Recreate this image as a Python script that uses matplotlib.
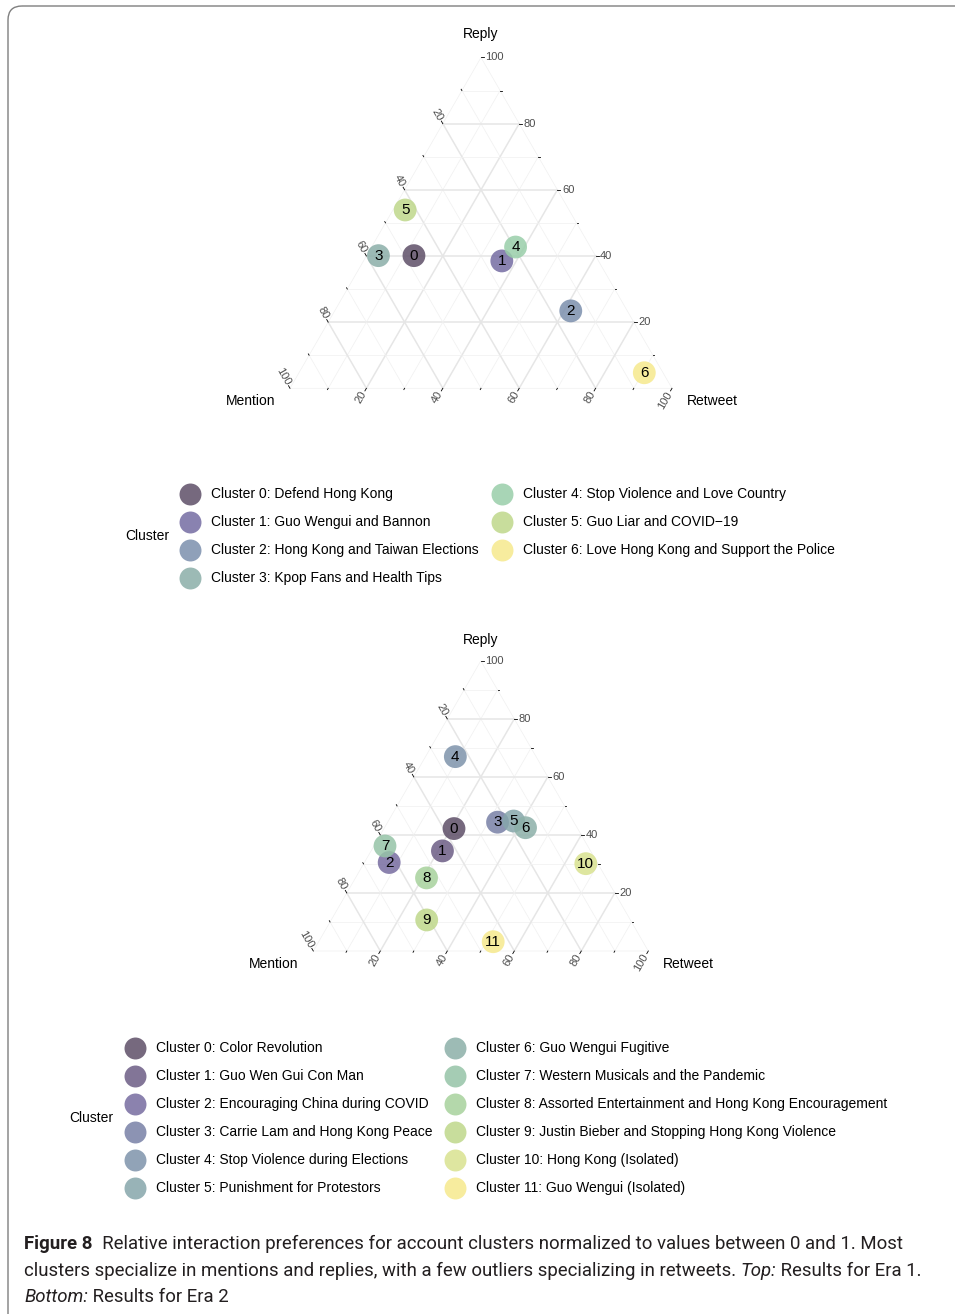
import numpy as np
import matplotlib
matplotlib.use("Agg")
import matplotlib.pyplot as plt
from matplotlib.patches import FancyBboxPatch
from matplotlib import colors as mcolors

W, H, DPI = 955, 1314, 100
FONT = ["Liberation Sans", "DejaVu Sans"]
CAP_FONT = ["Liberation Sans Narrow", "Roboto", "DejaVu Sans"]
plt.rcParams["font.family"] = FONT

# ---------------- data ----------------
era1_ids = [0, 1, 2, 3, 4, 5, 6]
era1_names = ["Defend Hong Kong", "Guo Wengui and Bannon", "Hong Kong and Taiwan Elections",
              "Kpop Fans and Health Tips", "Stop Violence and Love Country",
              "Guo Liar and COVID\u221219", "Love Hong Kong and Support the Police"]
era1_mention = [0.475, 0.253, 0.148, 0.568, 0.196, 0.429, 0.049]
era1_reply = [0.401, 0.385, 0.234, 0.401, 0.427, 0.539, 0.047]
era1_retweet = [0.124, 0.362, 0.618, 0.031, 0.377, 0.032, 0.904]
era1_colors = ["#76697f", "#8a82b0", "#8fa0b9", "#9cbab5", "#a8d5b6", "#c9de9c", "#f7ec9e"]

era2_ids = list(range(12))
era2_names = ["Color Revolution", "Guo Wen Gui Con Man", "Encouraging China during COVID",
              "Carrie Lam and Hong Kong Peace", "Stop Violence during Elections",
              "Punishment for Protestors", "Guo Wengui Fugitive",
              "Western Musicals and the Pandemic",
              "Assorted Entertainment and Hong Kong Encouragement",
              "Justin Bieber and Stopping Hong Kong Violence", "Hong Kong (Isolated)",
              "Guo Wengui (Isolated)"]
era2_mention = [0.369, 0.442, 0.621, 0.228, 0.241, 0.178, 0.154, 0.605, 0.536, 0.608, 0.036, 0.447]
era2_reply = [0.422, 0.345, 0.305, 0.444, 0.670, 0.448, 0.425, 0.362, 0.252, 0.107, 0.301, 0.032]
era2_retweet = [0.209, 0.213, 0.074, 0.328, 0.089, 0.374, 0.421, 0.033, 0.212, 0.285, 0.663, 0.521]
era2_colors = ["#76697f", "#827597", "#8b82ae", "#8c93b3", "#91a3b8", "#98b3b8",
               "#9dbcb5", "#a6cdb4", "#b4d9ab", "#c9de9c", "#dfe6a0", "#f7ec9e"]

tick_values = [10, 20, 30, 40, 50, 60, 70, 80, 90, 100]
major_ticks = [20, 40, 60, 80, 100]

caption_lines = [
    [("Figure 8", dict(weight="bold")),
     ("  Relative interaction preferences for account clusters normalized to values between 0 and 1. Most", {})],
    [("clusters specialize in mentions and replies, with a few outliers specializing in retweets. ", {}),
     ("Top:", dict(style="italic")), (" Results for Era 1.", {})],
    [("Bottom:", dict(style="italic")), (" Results for Era 2", {})],
]

ALPHA = 0.85


def base_color(hexc, a=ALPHA):
    c = np.array(mcolors.to_rgb(hexc))
    return tuple(np.clip((c - (1 - a)) / a, 0, 1))


S3 = np.sqrt(3) / 2
fig = plt.figure(figsize=(W / DPI, H / DPI), dpi=DPI)

# overlay axes in pixel coordinates
ov = fig.add_axes([0, 0, 1, 1])
ov.set_xlim(0, W)
ov.set_ylim(H, 0)
ov.axis("off")
ov.add_patch(FancyBboxPatch((8, 6), 990, 1330, boxstyle="round,pad=0,rounding_size=14",
                            fc="none", ec="#7f7f7f", lw=1.0))


def to_xy(m, p, r):
    m, p, r = np.asarray(m, float), np.asarray(p, float), np.asarray(r, float)
    s = m + p + r
    p, r = p / s, r / s
    return r + 0.5 * p, p * S3


def ternary(left_px, base_px, width_px, mention, reply, retweet, ids, cols, title_gap):
    L = left_px - 170
    T = base_px - width_px * S3 - 60
    Wd = width_px + 340
    Ht = width_px * S3 + 100
    ax = fig.add_axes([L / W, 1 - (T + Ht) / H, Wd / W, Ht / H])
    ax.set_xlim((L - left_px) / width_px, (L + Wd - left_px) / width_px)
    ax.set_ylim((base_px - (T + Ht)) / width_px, (base_px - T) / width_px)
    ax.axis("off")
    px = 1.0 / width_px

    ax.plot([0, 1, 0.5, 0], [0, 0, S3, 0], color="#f0f0f0", lw=0.5, zorder=1)
    for v in range(10, 100, 10):
        f = v / 100
        major = v % 20 == 0
        kw = dict(color="#e6e6e6" if major else "#f1f1f1", lw=1.1 if major else 0.55, zorder=1)
        ax.plot([0.5 * f, 1 - 0.5 * f], [S3 * f, S3 * f], **kw)               # reply
        ax.plot([0.5 * (1 - f), 1 - f], [S3 * (1 - f), 0], **kw)             # mention
        ax.plot([f, f + 0.5 * (1 - f)], [0, S3 * (1 - f)], **kw)             # retweet

    lab_kw = dict(fontsize=8, color="#4d4d4d")
    for v in tick_values:
        f = v / 100
        major = v in major_ticks
        ln = (3.0 if major else 1.5) * px
        # reply on right edge
        x0, y0 = 1 - 0.5 * f, S3 * f
        d = np.array([1.0, 0.0])
        ax.plot([x0, x0 + d[0] * ln], [y0, y0 + d[1] * ln], color="black", lw=0.6, zorder=2)
        if major:
            ax.text(x0 + d[0] * 4.5 * px, y0 + d[1] * 4.5 * px, str(v), ha="left", va="center", **lab_kw)
        # mention on left edge
        x0, y0 = 0.5 * (1 - f), S3 * (1 - f)
        d = np.array([-0.5, S3])
        ax.plot([x0, x0 + d[0] * ln], [y0, y0 + d[1] * ln], color="black", lw=0.6, zorder=2)
        if major:
            ax.text(x0 + d[0] * 4.5 * px, y0 + d[1] * 4.5 * px, str(v), ha="right", va="center",
                    rotation=-60, rotation_mode="anchor", **lab_kw)
        # retweet on bottom edge
        x0, y0 = f, 0.0
        d = np.array([-0.5, -S3])
        ax.plot([x0, x0 + d[0] * ln], [y0, y0 + d[1] * ln], color="black", lw=0.6, zorder=2)
        if major:
            ax.text(x0 + d[0] * 4.5 * px, y0 + d[1] * 4.5 * px, str(v), ha="right", va="center",
                    rotation=60, rotation_mode="anchor", **lab_kw)

    ax.text(0.5, S3 + title_gap * px, "Reply", ha="center", va="center", fontsize=10)
    ax.text(-15 * px, -13 * px, "Mention", ha="right", va="center", fontsize=10)
    ax.text(1 + 15 * px, -13 * px, "Retweet", ha="left", va="center", fontsize=10)

    x, y = to_xy(mention, reply, retweet)
    ax.scatter(x, y, s=270, c=[base_color(c) for c in cols], alpha=ALPHA, lw=0, zorder=3)
    for xi, yi, i in zip(x, y, ids):
        ax.text(xi, yi, str(i), ha="center", va="center", fontsize=11, color="black", zorder=4)
    return ax


ternary(290, 388.3, 382, era1_mention, era1_reply, era1_retweet, era1_ids, era1_colors, 23)
ternary(313.3, 951, 335, era2_mention, era2_reply, era2_retweet, era2_ids, era2_colors, 21)


def legend(title_xy, col_x, row0, n_rows, ids, names, cols):
    ov.text(title_xy[0], title_xy[1], "Cluster", ha="left", va="center", fontsize=10)
    for k, (i, nm, c) in enumerate(zip(ids, names, cols)):
        col, row = divmod(k, n_rows)
        kx = col_x[col]
        ky = row0 + 28 * row
        ov.scatter([kx], [ky], s=250, color=base_color(c), alpha=ALPHA, lw=0)
        ov.text(kx + 21, ky, f"Cluster {i}: {nm}", ha="left", va="center", fontsize=10)


legend((125, 536), [190, 502], 494, 4, era1_ids, era1_names, era1_colors)
legend((69, 1118), [135, 455], 1048, 6, era2_ids, era2_names, era2_colors)

# caption (font size fitted so the widest line spans the reference width)
renderer = fig.canvas.get_renderer()


def runs(y_px, parts, size, x_px=24, draw=True):
    x = x_px
    made = []
    for txt, kw in parts:
        t = fig.text(x / W, 1 - y_px / H, txt, fontsize=size, ha="left", va="baseline",
                     family=CAP_FONT, color="#231f20", **kw)
        x += t.get_window_extent(renderer).width
        made.append(t)
    if not draw:
        for t in made:
            t.remove()
    return x - x_px


base_size = 14.2
widths = [runs(1249, caption_lines[k], base_size, draw=False) for k in (0, 1)]
cap_size = base_size * 901.0 / max(widths)
for yy, parts in zip([1249, 1276, 1302], caption_lines):
    runs(yy, parts, cap_size)

fig.savefig("out.png", dpi=DPI)
